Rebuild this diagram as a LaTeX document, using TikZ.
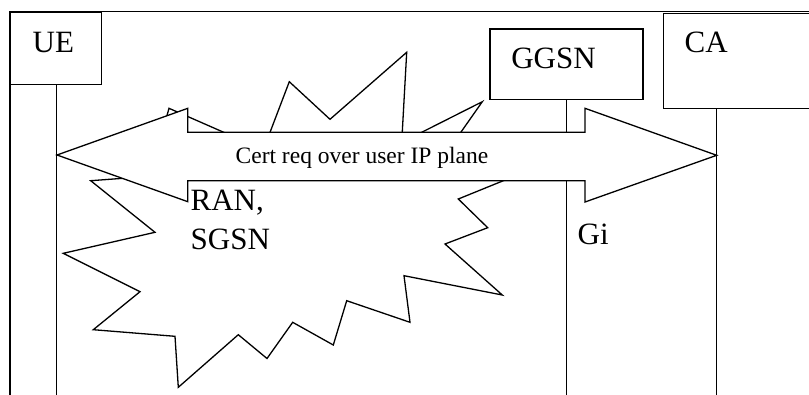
\documentclass[tikz,border=0pt]{standalone}
\usepackage{fontspec}
\setmainfont{Liberation Serif}
\begin{document}
\begin{tikzpicture}[x=1pt,y=-1pt,line width=1.3pt,line join=miter,
  box/.style={draw,fill=white,rectangle,inner sep=0pt,anchor=north west},
  lbl/.style={font=\fontsize{31}{39}\selectfont,inner sep=0pt,anchor=base west,align=left},
  msg/.style={font=\fontsize{23.5}{28}\selectfont,inner sep=0pt,anchor=base west}]
\useasboundingbox (0,0) rectangle (809,394);
\clip (0,0) rectangle (809,394);
% frame
\draw (830,11.4) -- (10,11.4) -- (10,410);
% boxes
\node[box,minimum width=91pt,minimum height=72pt] (ue) at (10,12) {};
\node[box,minimum width=153pt,minimum height=70.7pt] (ggsn) at (489.3,28.3) {};
\node[box,minimum width=170pt,minimum height=95.3pt] (ca) at (663,12.7) {};
% lifelines
\coordinate (bot) at (0,400);
\coordinate (cax) at (716.7,0);
\draw (ue.south) -- (ue.south |- bot);
\draw (ggsn.south) -- (ggsn.south |- bot);
\draw (cax |- ca.south) -- (cax |- bot);
% cloud (RAN, SGSN)
\draw[fill=white] (169,108.3) -- (263.4,149.7) -- (289.3,81.7) -- (330,119.3)
  -- (406.7,52.3) -- (401.7,142.4) -- (482.3,101.7) -- (447,152)
  -- (555,159.7) -- (458.3,199) -- (487.7,227.7) -- (445,244)
  -- (502.3,295) -- (404,275.7) -- (410,322.3) -- (346.7,300.7)
  -- (333.3,345) -- (292.7,322.3) -- (267,358.5) -- (238.3,334.7)
  -- (178.3,387.3) -- (175,336.3) -- (93.3,329.7) -- (140,291.7)
  -- (63.3,253.3) -- (155,232.3) -- (90.7,180.7) -- (150,176.3) -- cycle;
% double arrow
\draw[fill=white] (57,155) -- (187.8,108.3) -- (187.8,132.3) -- (585,132.3)
  -- (585,108.3) -- (716.7,155.3) -- (585,202) -- (585,180.7)
  -- (187.8,180.7) -- (187.8,201.7) -- cycle;
% texts
\node[lbl] (uet) at (32,52.7) {UE};
\node[lbl] (ggsnt) at (510.7,68.3) {GGSN};
\node[lbl] (cat) at (684,52.7) {CA};
\node[lbl] (ran) at (190,249) {RAN,\\SGSN};
\node[lbl] (gi) at (577,244) {Gi};
\node[msg] (cert) at (235,163) {Cert req over user IP plane};
\end{tikzpicture}
\end{document}
